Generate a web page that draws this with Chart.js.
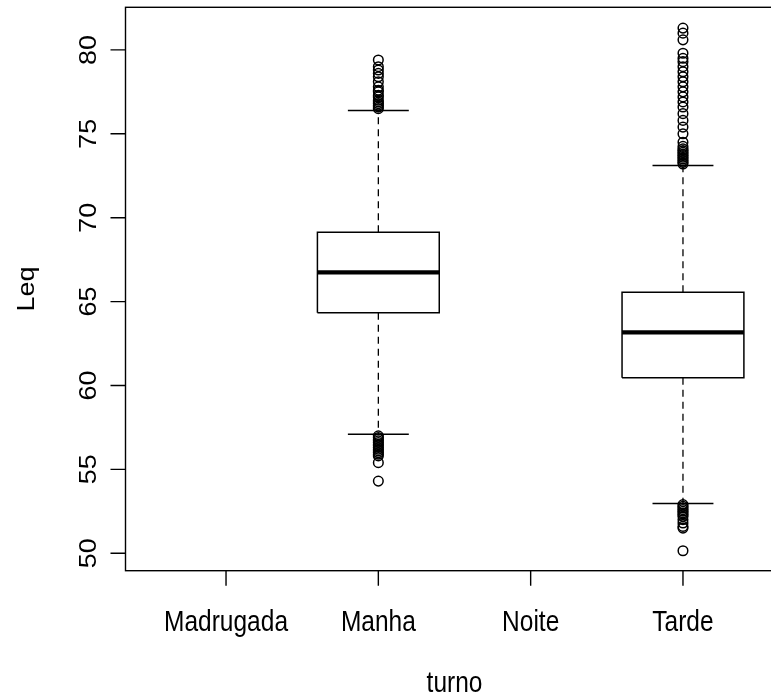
<!DOCTYPE html>
<html>
<head>
<meta charset="utf-8">
<script src="https://cdn.jsdelivr.net/npm/chart.js@4.4.1/dist/chart.umd.min.js"></script>
<style>
  html, body { margin: 0; padding: 0; background: #fff; overflow: hidden; }
  #wrap { width: 771px; height: 696px; overflow: hidden; }
</style>
</head>
<body>
<div id="wrap"><canvas id="chart" width="800" height="696"></canvas></div>
<script>
// Leq by turno (boxplot)
const categories = ['Madrugada', 'Manha', 'Noite', 'Tarde'];
const q1 = [null, 64.33, null, 60.46];
const median = [null, 66.74, null, 63.17];
const q3 = [null, 69.13, null, 65.55];
const whiskerLow = [null, 57.1, null, 52.96];
const whiskerHigh = [null, 76.39, null, 73.11];
const outliers = [
  [],
  [76.5, 76.6, 76.7, 76.8, 76.9, 77.0, 77.2, 77.3, 77.5, 77.6, 77.8, 78.1, 78.4, 78.6, 78.8, 79.0, 79.4,
   57.0, 56.9, 56.8, 56.7, 56.6, 56.5, 56.4, 56.3, 56.2, 56.1, 56.0, 55.9, 55.8, 55.4, 54.3],
  [],
  [73.2, 73.3, 73.4, 73.5, 73.6, 73.7, 73.8, 73.9, 74.0, 74.1, 74.25, 74.5, 75.0, 75.4, 75.8, 76.2,
   76.6, 76.9, 77.2, 77.5, 77.8, 78.1, 78.4, 78.7, 79.0, 79.3, 79.5, 79.8, 80.6, 81.0, 81.3,
   52.9, 52.8, 52.7, 52.6, 52.5, 52.4, 52.3, 52.2, 52.0, 51.8, 51.6, 51.5, 50.15]
];
const yTicks = [50, 55, 60, 65, 70, 75, 80];
const xTitle = 'turno';
const yTitle = 'Leq';

const BOX_HALF = 0.4;
const STAPLE_HALF = 0.2;
const FONT = '"Liberation Sans", Arial, sans-serif';

function lineSet(points, width, dash) {
  return {
    data: points,
    showLine: true,
    borderColor: '#000',
    borderWidth: width,
    borderDash: dash || [],
    borderCapStyle: 'butt',
    borderJoinStyle: 'miter',
    pointRadius: 0,
    pointHoverRadius: 0,
    fill: false,
    tension: 0
  };
}

const datasets = [];
categories.forEach((cat, i) => {
  const x = i + 1;
  if (q1[i] === null) return;
  // whiskers
  datasets.push(lineSet([{ x, y: q3[i] }, { x, y: whiskerHigh[i] }], 1.3, [7, 5]));
  datasets.push(lineSet([{ x, y: q1[i] }, { x, y: whiskerLow[i] }], 1.3, [7, 5]));
  // staples
  datasets.push(lineSet([{ x: x - STAPLE_HALF, y: whiskerHigh[i] }, { x: x + STAPLE_HALF, y: whiskerHigh[i] }], 1.5));
  datasets.push(lineSet([{ x: x - STAPLE_HALF, y: whiskerLow[i] }, { x: x + STAPLE_HALF, y: whiskerLow[i] }], 1.5));
  // box
  datasets.push(lineSet([
    { x: x - BOX_HALF, y: q1[i] }, { x: x + BOX_HALF, y: q1[i] },
    { x: x + BOX_HALF, y: q3[i] }, { x: x - BOX_HALF, y: q3[i] },
    { x: x - BOX_HALF, y: q1[i] }
  ], 1.5));
  // median
  datasets.push(lineSet([{ x: x - BOX_HALF, y: median[i] }, { x: x + BOX_HALF, y: median[i] }], 4.2));
  // outliers
  datasets.push({
    data: outliers[i].map(v => ({ x, y: v })),
    showLine: false,
    pointStyle: 'circle',
    pointRadius: 4.8,
    pointHoverRadius: 4.8,
    pointBorderWidth: 1.5,
    pointBorderColor: '#000',
    pointBackgroundColor: 'rgba(0,0,0,0)'
  });
});

function drawText(ctx, text, x, y, rotation, sy) {
  ctx.save();
  ctx.translate(x, y);
  ctx.scale(1, sy);
  ctx.rotate(rotation);
  ctx.fillText(text, 0, 0);
  ctx.restore();
}

const axesPlugin = {
  id: 'rAxes',
  afterDraw(chart) {
    const ctx = chart.ctx;
    const area = chart.chartArea;
    const xs = chart.scales.x;
    const ys = chart.scales.y;
    ctx.save();
    ctx.strokeStyle = '#000';
    ctx.fillStyle = '#000';
    ctx.lineWidth = 1.4;
    // plot box
    ctx.strokeRect(area.left, area.top, area.right - area.left, area.bottom - area.top);
    // y ticks
    ctx.beginPath();
    yTicks.forEach(t => {
      const py = ys.getPixelForValue(t);
      ctx.moveTo(area.left, py);
      ctx.lineTo(area.left - 15, py);
    });
    // x ticks
    categories.forEach((c, i) => {
      const px = xs.getPixelForValue(i + 1);
      ctx.moveTo(px, area.bottom);
      ctx.lineTo(px, area.bottom + 15);
    });
    ctx.stroke();

    ctx.font = '24.5px ' + FONT;
    ctx.textAlign = 'center';
    ctx.textBaseline = 'middle';
    yTicks.forEach(t => {
      drawText(ctx, String(t), 89, ys.getPixelForValue(t), -Math.PI / 2, 1.1);
    });
    categories.forEach((c, i) => {
      drawText(ctx, c, xs.getPixelForValue(i + 1), 623, 0, 1.2);
    });
    drawText(ctx, xTitle, xs.getPixelForValue(2.5), 684, 0, 1.2);
    drawText(ctx, yTitle, 27, (area.top + area.bottom) / 2, -Math.PI / 2, 1.1);
    ctx.restore();
  }
};

new Chart(document.getElementById('chart'), {
  type: 'scatter',
  data: { datasets },
  options: {
    responsive: false,
    animation: false,
    layout: { padding: { left: 125.5, top: 7.3, right: 16.5, bottom: 125.3 } },
    scales: {
      x: { type: 'linear', min: 0.34, max: 4.66, display: false },
      y: { type: 'linear', min: 48.96, max: 82.54, display: false }
    },
    plugins: {
      legend: { display: false },
      tooltip: { enabled: false }
    }
  },
  plugins: [axesPlugin]
});
</script>
</body>
</html>
